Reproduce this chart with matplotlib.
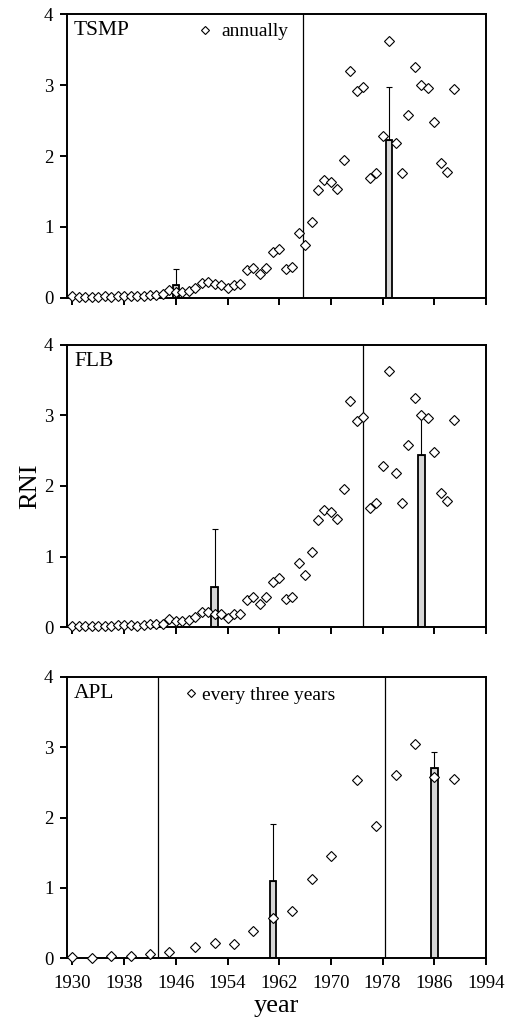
import matplotlib
matplotlib.use('Agg')
import matplotlib.pyplot as plt
import numpy as np

plt.rcParams['font.family'] = ['Liberation Serif', 'DejaVu Serif']

# annual RNI series (same for TSMP and FLB)
years = np.arange(1930, 1990)
rni_annual = [0.02, 0.01, 0.01, 0.01, 0.01, 0.02, 0.01, 0.03, 0.03, 0.03,
              0.02, 0.03, 0.04, 0.04, 0.05, 0.11, 0.08, 0.08, 0.10, 0.14,
              0.21, 0.22, 0.19, 0.18, 0.13, 0.18, 0.19, 0.39, 0.42, 0.33,
              0.42, 0.64, 0.69, 0.40, 0.43, 0.91, 0.74, 1.07, 1.52, 1.66,
              1.63, 1.53, 1.95, 3.20, 2.92, 2.97, 1.69, 1.76, 2.28, 3.63,
              2.19, 1.76, 2.58, 3.25, 3.00, 2.96, 2.48, 1.90, 1.78, 2.94]

# APL, every three years
years_apl = [1930, 1933, 1936, 1939, 1942, 1945, 1949, 1952, 1955, 1958,
             1961, 1964, 1967, 1970, 1974, 1977, 1980, 1983, 1986, 1989]
rni_apl = [0.02, 0.01, 0.03, 0.04, 0.06, 0.09, 0.16, 0.22, 0.20, 0.39,
           0.58, 0.67, 1.12, 1.46, 2.53, 1.88, 2.60, 3.04, 2.57, 2.55]

# period means (bars) with upper error
tsmp_bar_x = [1946, 1979]
tsmp_bar_h = [0.18, 2.22]
tsmp_bar_err = [0.23, 0.76]
flb_bar_x = [1952, 1984]
flb_bar_h = [0.57, 2.44]
flb_bar_err = [0.82, 0.53]
apl_bar_x = [1961, 1986]
apl_bar_h = [1.10, 2.70]
apl_bar_err = [0.81, 0.23]

# period boundaries
tsmp_breaks = [1965.6]
flb_breaks = [1975.0]
apl_breaks = [1943.3, 1978.3]

xticks = list(range(1930, 1995, 8))

fig = plt.figure(figsize=(5.1, 10.23), dpi=100)
left, width = 0.132, 0.821
ax1 = fig.add_axes([left, 0.709, width, 0.277])
ax2 = fig.add_axes([left, 0.387, width, 0.276])
ax3 = fig.add_axes([left, 0.0632, width, 0.2753])


def draw_panel(ax, name, xs, ys, bx, bh, be, breaks):
    for b in breaks:
        ax.axvline(b, color='black', lw=0.9, zorder=1)
    ax.bar(bx, bh, width=1.0, color='#d6d6d6', edgecolor='black', lw=1.3,
           zorder=2)
    ax.errorbar(bx, bh, yerr=[np.zeros(len(be)), be], fmt='none',
                ecolor='black', elinewidth=0.8, capsize=2, capthick=0.8,
                zorder=2)
    ln, = ax.plot(xs, ys, 'D', ms=4.9, mfc='white', mec='black', mew=0.8,
                  clip_on=False, zorder=3)
    ax.text(0.016, 0.926, name, transform=ax.transAxes, fontsize=15.5,
            va='baseline', ha='left')
    ax.set_xlim(1929.2, 1994)
    ax.set_ylim(0, 4)
    ax.set_xticks(xticks)
    ax.set_yticks([0, 1, 2, 3, 4])
    for s in ax.spines.values():
        s.set_linewidth(1.4)
    ax.tick_params(direction='out', length=5, width=1.4, labelsize=13.5)
    ax.tick_params(axis='y', pad=5)
    ax.tick_params(axis='x', pad=7)
    return ln


ln1 = draw_panel(ax1, 'TSMP', years, rni_annual, tsmp_bar_x, tsmp_bar_h,
                 tsmp_bar_err, tsmp_breaks)
ax1.set_xticklabels([])
ax1.legend([ln1], ['annually'], loc='center left', bbox_to_anchor=(0.316, 0.939),
           frameon=False, fontsize=14, handlelength=0.6, handletextpad=0.5,
           borderpad=0, borderaxespad=0, markerscale=0.75)

draw_panel(ax2, 'FLB', years, rni_annual, flb_bar_x, flb_bar_h,
           flb_bar_err, flb_breaks)
ax2.set_xticklabels([])
ax2.set_ylabel('RNI', fontsize=19, labelpad=2)

ln3 = draw_panel(ax3, 'APL', years_apl, rni_apl, apl_bar_x, apl_bar_h,
                 apl_bar_err, apl_breaks)
ax3.legend([ln3], ['every three years'], loc='center left',
           bbox_to_anchor=(0.281, 0.935), frameon=False, fontsize=14,
           handlelength=0.6, handletextpad=0.25, borderpad=0,
           borderaxespad=0, markerscale=0.75)
ax3.set_xlabel('year', fontsize=19, labelpad=2)

plt.savefig('out.png', dpi=100)
